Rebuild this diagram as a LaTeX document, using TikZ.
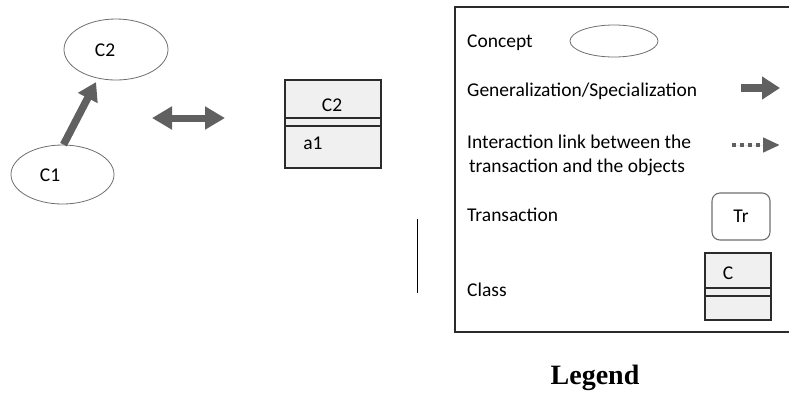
\documentclass[tikz,border=0pt]{standalone}
\usepackage{fontspec}
\setmainfont{Carlito}
\newfontfamily\titlefont{Liberation Serif}
\usetikzlibrary{arrows.meta,shapes.geometric}

\definecolor{arrowgray}{HTML}{606060}
\definecolor{outline}{HTML}{6E6E6E}
\definecolor{boxfill}{HTML}{F0F0F0}
\definecolor{frame}{HTML}{2B2B2B}

\begin{document}
\begin{tikzpicture}[x=1pt,y=-1pt,
  font=\fontsize{19.5}{23}\selectfont,
  concept/.style={ellipse, draw=outline, line width=0.8pt, inner sep=0pt},
  classbox/.style={rectangle, draw=frame, fill=boxfill, line width=1.2pt, inner sep=0pt},
  trbox/.style={rectangle, rounded corners=8pt, draw=outline, line width=1.1pt, inner sep=0pt},
  genarrow/.style={draw=arrowgray, fill=arrowgray, line width=7.5pt,
    -{Triangle[length=18pt, width=21pt]}},
  bothways/.style={draw=arrowgray, fill=arrowgray, line width=7pt,
    {Triangle[length=20pt, width=22pt]}-{Triangle[length=20pt, width=22pt]}},
  linkarrow/.style={draw=arrowgray, fill=arrowgray, line width=4.3pt,
    dash pattern=on 4.3pt off 3.7pt, -{Triangle[length=17pt, width=14pt]}},
  lbl/.style={anchor=base west, inner sep=0pt},
]
\useasboundingbox (0,0) rectangle (789,392);

% concept view: C1 specialises C2
\node[concept, minimum width=104pt, minimum height=61pt] (c2) at (116,49.5) {};
\node (c2t) at (105,50) {C2};
\node[concept, minimum width=103pt, minimum height=59pt] (c1) at (62.5,174.5) {};
\node (c1t) at (50,175) {C1};
\draw[genarrow, shorten >=4pt] (c1.88) -- (c2.238);

% correspondence between the two views
\coordinate (dl) at (152,118);
\coordinate (dr) at (225,118);
\draw[bothways] (dl) -- (dr);

% class view
\node[classbox, minimum width=96pt, minimum height=88pt] (cls) at (333,124) {};
\draw[frame, line width=1.2pt] (cls.west |- 0,118) -- (cls.east |- 0,118);
\draw[frame, line width=1.2pt] (cls.west |- 0,126) -- (cls.east |- 0,126);
\node (clsname) at (332,105) {C2};
\node (clsattr) at (313,143) {a1};

% separator
\coordinate (sa) at (417,219);
\coordinate (sb) at (417,293);
\draw[line width=1pt] (sa) -- (sb);

% legend
\draw[frame, line width=1.3pt] (455,7) rectangle (800,332);
\node[lbl] (lconcept) at (467,47) {Concept};
\node[concept, minimum width=88pt, minimum height=32pt] (lell) at (614,41) {};
\node[lbl] (lgen) at (467,96) {Generalization/Specialization};
\coordinate (ga) at (741,88);
\coordinate (gb) at (780,88);
\draw[genarrow, -{Triangle[length=18pt, width=22pt]}] (ga) -- (gb);
\node[lbl] (lint1) at (467,148) {Interaction link between the};
\node[lbl] (lint2) at (469,172) {transaction and the objects};
\coordinate (ia) at (732,145);
\coordinate (ib) at (780,145);
\draw[linkarrow] (ia) -- (ib);
\node[lbl] (ltr) at (467,221) {Transaction};
\node[trbox, minimum width=58pt, minimum height=47pt] (tr) at (741,216.5) {Tr};
\node[lbl] (lclass) at (467,296) {Class};
\node[classbox, minimum width=66pt, minimum height=67pt] (lcls) at (738,286.5) {};
\draw[frame, line width=1.2pt] (lcls.west |- 0,288) -- (lcls.east |- 0,288);
\draw[frame, line width=1.2pt] (lcls.west |- 0,296) -- (lcls.east |- 0,296);
\node (lclsname) at (728,273) {C};
\node[font=\titlefont\bfseries\fontsize{28}{32}\selectfont] (title) at (595,378) {Legend};
\end{tikzpicture}
\end{document}
